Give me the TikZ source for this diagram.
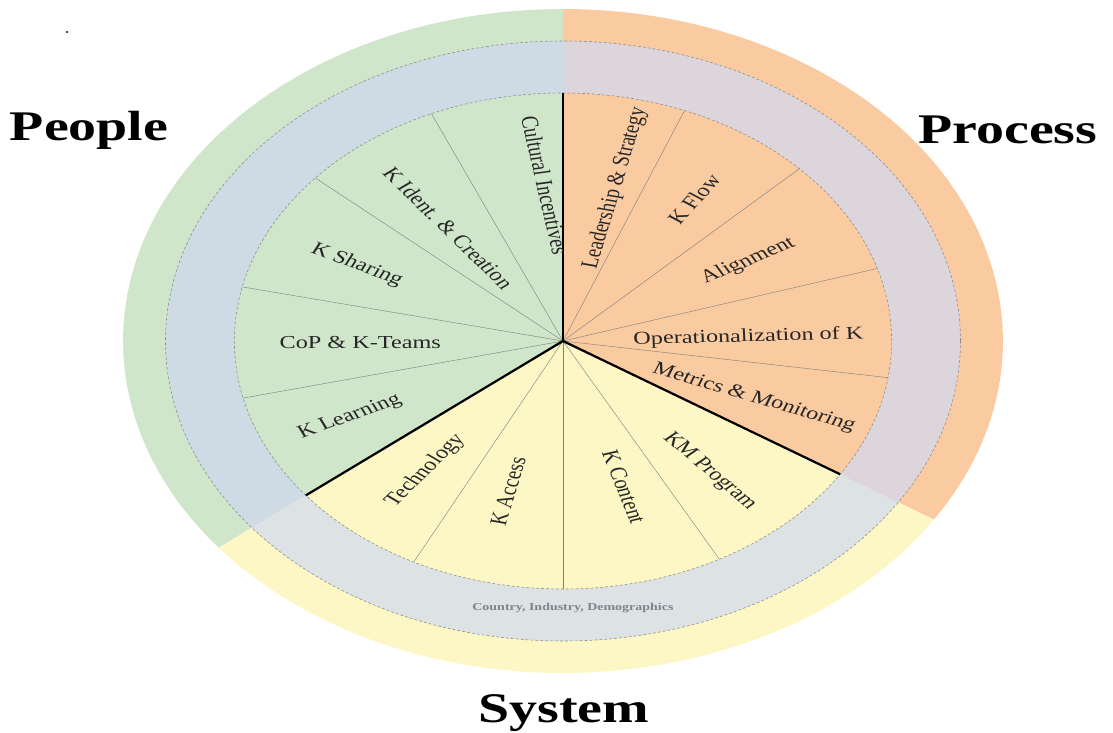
\documentclass[tikz,border=0pt]{standalone}
\usepackage{fontspec}
\setmainfont{Liberation Serif}
\usetikzlibrary{positioning}

\definecolor{peoplegreen}{RGB}{208,230,202}
\definecolor{processorange}{RGB}{250,203,160}
\definecolor{systemyellow}{RGB}{252,247,196}
\definecolor{ringgreen}{RGB}{206,219,229}
\definecolor{ringorange}{RGB}{221,213,220}
\definecolor{ringyellow}{RGB}{221,226,229}
\definecolor{contextgray}{RGB}{128,132,140}

\begin{document}
\begin{tikzpicture}[x = 0.025cm, y = 0.025cm,
    slice/.style = {font = \fontsize{13}{15}\selectfont, text = black!85, inner sep = 0pt},
    heading/.style = {font = \fontsize{30}{36}\selectfont\bfseries, anchor = base, inner sep = 0pt},
    divider/.style = {line width = 1.6pt, black},
    spoke/.style = {line width = 0.3pt, black!50},
    rim/.style = {line width = 0.4pt, black!45, dash pattern = on 2pt off 1.5pt}]
  \useasboundingbox (-563, -391) rectangle (550, 341);
  \begin{scope}[xscale = 1.325, transform shape]
    \coordinate (o) at (0, 0);
    \fill [peoplegreen] (o) -- (90:332) arc [start angle = 90, end angle = 218.5, radius = 332] -- cycle;
    \fill [systemyellow] (o) -- (218.5:332) arc [start angle = 218.5, end angle = 327.5, radius = 332] -- cycle;
    \fill [processorange] (o) -- (-32.5:332) arc [start angle = -32.5, end angle = 90, radius = 332] -- cycle;
    \fill [ringgreen] (90:248) arc [start angle = 90, end angle = 218.5, radius = 248] -- (218.5:300) arc [start angle = 218.5, end angle = 90, radius = 300] -- cycle;
    \fill [ringyellow] (218.5:248) arc [start angle = 218.5, end angle = 327.5, radius = 248] -- (327.5:300) arc [start angle = 327.5, end angle = 218.5, radius = 300] -- cycle;
    \fill [ringorange] (-32.5:248) arc [start angle = -32.5, end angle = 90, radius = 248] -- (90:300) arc [start angle = 90, end angle = -32.5, radius = 300] -- cycle;
    \fill [peoplegreen] (o) -- (90:248) arc [start angle = 90, end angle = 218.5, radius = 248] -- cycle;
    \fill [systemyellow] (o) -- (218.5:248) arc [start angle = 218.5, end angle = 327.5, radius = 248] -- cycle;
    \fill [processorange] (o) -- (-32.5:248) arc [start angle = -32.5, end angle = 90, radius = 248] -- cycle;
    \draw [rim] (o) circle [radius = 300];
    \draw [rim] (o) circle [radius = 248];
    \draw [spoke] (o) -- (113.6:248); \draw [spoke] (o) -- (138.9:248);
    \draw [spoke] (o) -- (167.4:248); \draw [spoke] (o) -- (193.3:248);
    \draw [spoke] (o) -- (243:248); \draw [spoke] (o) -- (270:248); \draw [spoke] (o) -- (298.4:248);
    \draw [spoke] (o) -- (68.3:248); \draw [spoke] (o) -- (44:248);
    \draw [spoke] (o) -- (17:248); \draw [spoke] (o) -- (-8.5:248);
    \draw [divider] (o) -- (90:248); \draw [divider] (o) -- (218.5:248); \draw [divider] (o) -- (-32.5:248);
    \node [slice, rotate = -80] (cultural) at (95:156) {Cultural Incentives};
    \node [slice, rotate = -52] (kident) at (127.5:142) {K Ident. \& Creation};
    \node [slice, rotate = -26] (ksharing) at (154:173) {K Sharing};
    \node [slice, rotate = 0] (cop) at (180.5:153) {CoP \& K-Teams};
    \node [slice, rotate = 25] (klearning) at (205.3:178) {K Learning};
    \node [slice, rotate = 52] (tech) at (231.3:166) {Technology};
    \node [slice, rotate = 77] (kaccess) at (254.6:156) {K Access};
    \node [slice, rotate = -73] (kcontent) at (287.5:153) {K Content};
    \node [slice, rotate = -48] (kmprog) at (310.3:171) {KM Program};
    \node [slice, rotate = -21] (metrics) at (-21.6:155) {Metrics \& Monitoring};
    \node [slice, rotate = 2] (oper) at (1.6:140) {Operationalization of K};
    \node [slice, rotate = 29] (align) at (29.8:161) {Alignment};
    \node [slice, rotate = 55] (kflow) at (55.1:173) {K Flow};
    \node [slice, rotate = 77] (leader) at (75.6:158) {Leadership \& Strategy};
    \node [font = \fontsize{7.5}{9}\selectfont\bfseries, text = contextgray] (context) at (7.5, -267) {Country, Industry, Demographics};
    \node [heading] (people) at (-357.7, 201) {People};
    \node [heading] (process) at (335.8, 198) {Process};
    \node [heading] (system) at (0.75, -381) {System};
    \fill [black!70] (-374.3, 309) circle [radius = 1.2];
  \end{scope}
\end{tikzpicture}
\end{document}
